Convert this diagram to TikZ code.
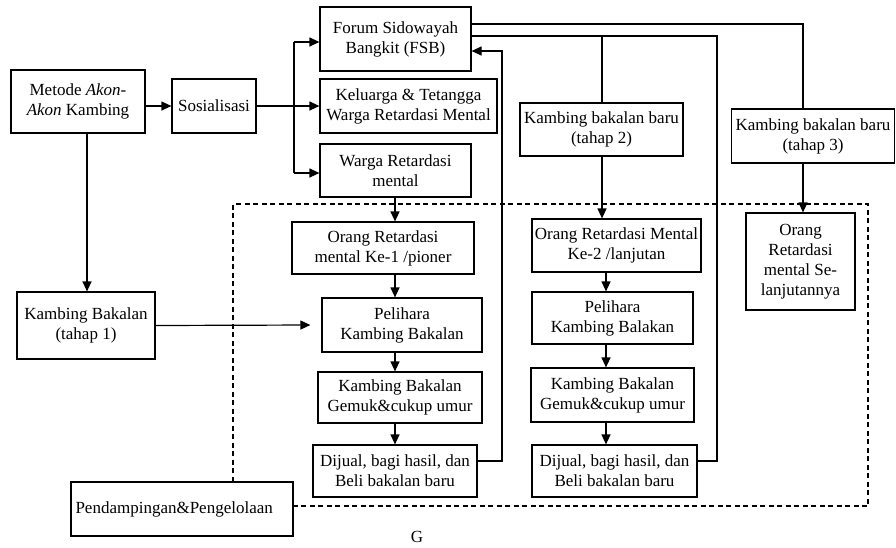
\documentclass[tikz,border=0pt]{standalone}
\usepackage{fontspec}
\setmainfont{Liberation Serif}
\usetikzlibrary{arrows.meta}
\begin{document}
\begin{tikzpicture}[x=1pt,y=-1pt,
  box/.style={draw,line width=1.2pt,inner sep=1.5pt,align=center,fill=white,
    font=\fontsize{17}{20}\selectfont},
  arr/.style={line width=1.2pt,-{Triangle[length=10pt,width=9pt]}},
  ln/.style={line width=1.2pt},
  grpbox/.style={draw,line width=1.2pt,dash pattern=on 5pt off 3.5pt}]
\useasboundingbox (0,0) rectangle (896,547);
% dashed group
\node[grpbox,minimum width=635pt,minimum height=302pt,inner sep=0pt] (grp) at (550.5,355) {};
% boxes
\node[box,minimum width=134pt,minimum height=63pt] (metode) at (78,101.5) {Metode \textit{Akon-}\\\textit{Akon} Kambing};
\node[box,minimum width=84pt,minimum height=54pt] (sos) at (214,106) {Sosialisasi};
\node[box,minimum width=151pt,minimum height=64pt] (forum) at (395.5,39) {Forum Sidowayah\\Bangkit (FSB)};
\node[box,minimum width=177pt,minimum height=54pt] (kel) at (408.5,106) {Keluarga \& Tetangga\\Warga Retardasi Mental};
\node[box,minimum width=151pt,minimum height=53pt] (warga) at (395.5,170.5) {Warga Retardasi\\mental};
\node[box,minimum width=163pt,minimum height=53pt] (t2) at (601.5,129.5) {Kambing bakalan baru\\(tahap 2)};
\node[box,minimum width=163pt,minimum height=54pt] (t3) at (813,136) {Kambing bakalan baru\\(tahap 3)};
\node[box,minimum width=182pt,minimum height=52pt] (o1) at (383,248) {Orang Retardasi\\mental Ke-1 /pioner};
\node[box,minimum width=160pt,minimum height=54pt] (p1) at (402,325) {Pelihara\\Kambing Bakalan};
\node[box,minimum width=164pt,minimum height=51pt] (g1) at (400,397.5) {Kambing Bakalan\\Gemuk\&cukup umur};
\node[box,minimum width=164pt,minimum height=52pt] (d1) at (395,471) {Dijual, bagi hasil, dan\\Beli bakalan baru};
\node[box,minimum width=169pt,minimum height=53pt] (o2) at (616.5,245.5) {Orang Retardasi Mental\\Ke-2 /lanjutan};
\node[box,minimum width=161pt,minimum height=52pt] (p2) at (612.5,318) {Pelihara\\Kambing Balakan};
\node[box,minimum width=163pt,minimum height=54pt] (g2) at (612.5,395) {Kambing Bakalan\\Gemuk\&cukup umur};
\node[box,minimum width=165pt,minimum height=52pt] (d2) at (614.5,471) {Dijual, bagi hasil, dan\\Beli bakalan baru};
\node[box,minimum width=109pt,minimum height=97pt] (os) at (800.5,261.5) {Orang\\Retardasi\\mental Se-\\lanjutannya};
\node[box,minimum width=138pt,minimum height=67pt] (kb) at (86,325.5) {Kambing Bakalan\\(tahap 1)};
\node[box,minimum height=54pt,text width=213pt,align=left,inner xsep=4.5pt] (pend) at (182,509) {Pendampingan\&Pengelolaan};
\node[font=\fontsize{17}{20}\selectfont] (g) at (417,537) {G};
% helper coordinates
\coordinate (bt) at (294,42);
\coordinate (bb) at (294,173);
\coordinate (ma) at (87,0);
\coordinate (c1) at (395,0);
\coordinate (fr) at (502,51);
\coordinate (dr) at (502,461);
\coordinate (ya) at (0,24);
\coordinate (yb) at (0,36);
\coordinate (xa) at (803,0);
\coordinate (xb) at (717,0);
\coordinate (x2) at (602,0);
\coordinate (x3) at (606,0);
% connectors
\draw[arr] (metode.east |- sos.west) -- (sos.west);
\draw[arr] (sos.east) -- (kel.west);
\draw[ln] (bt) -- (bb);
\draw[arr] (bt) -- (bt -| forum.west);
\draw[arr] (bb) -- (bb -| warga.west);
\draw[arr] (metode.south -| ma) -- (kb.north -| ma);
\draw[arr] (kb.east) -- ([xshift=-11pt]p1.west);
\draw[arr] (warga.south -| c1) -- (o1.north -| c1);
\draw[arr] (o1.south -| c1) -- (p1.north -| c1);
\draw[arr] (p1.south -| c1) -- (g1.north -| c1);
\draw[arr] (g1.south -| c1) -- (d1.north -| c1);
\draw[arr] (d1.east |- dr) -- (dr) -- (fr) -- (fr -| forum.east);
\draw[ln] (forum.east |- ya) -- (xa |- ya) -- (t3.north -| xa);
\draw[ln] (forum.east |- yb) -- (xb |- yb) -- (xb |- dr) -- (d2.east |- dr);
\draw[ln] (x2 |- yb) -- (t2.north -| x2);
\draw[arr] (t2.south -| x2) -- (o2.north -| x2);
\draw[arr] (o2.south -| x3) -- (p2.north -| x3);
\draw[arr] (p2.south -| x3) -- (g2.north -| x3);
\draw[arr] (g2.south -| x3) -- (d2.north -| x3);
\draw[arr] (t3.south -| xa) -- (os.north -| xa);
\end{tikzpicture}
\end{document}
